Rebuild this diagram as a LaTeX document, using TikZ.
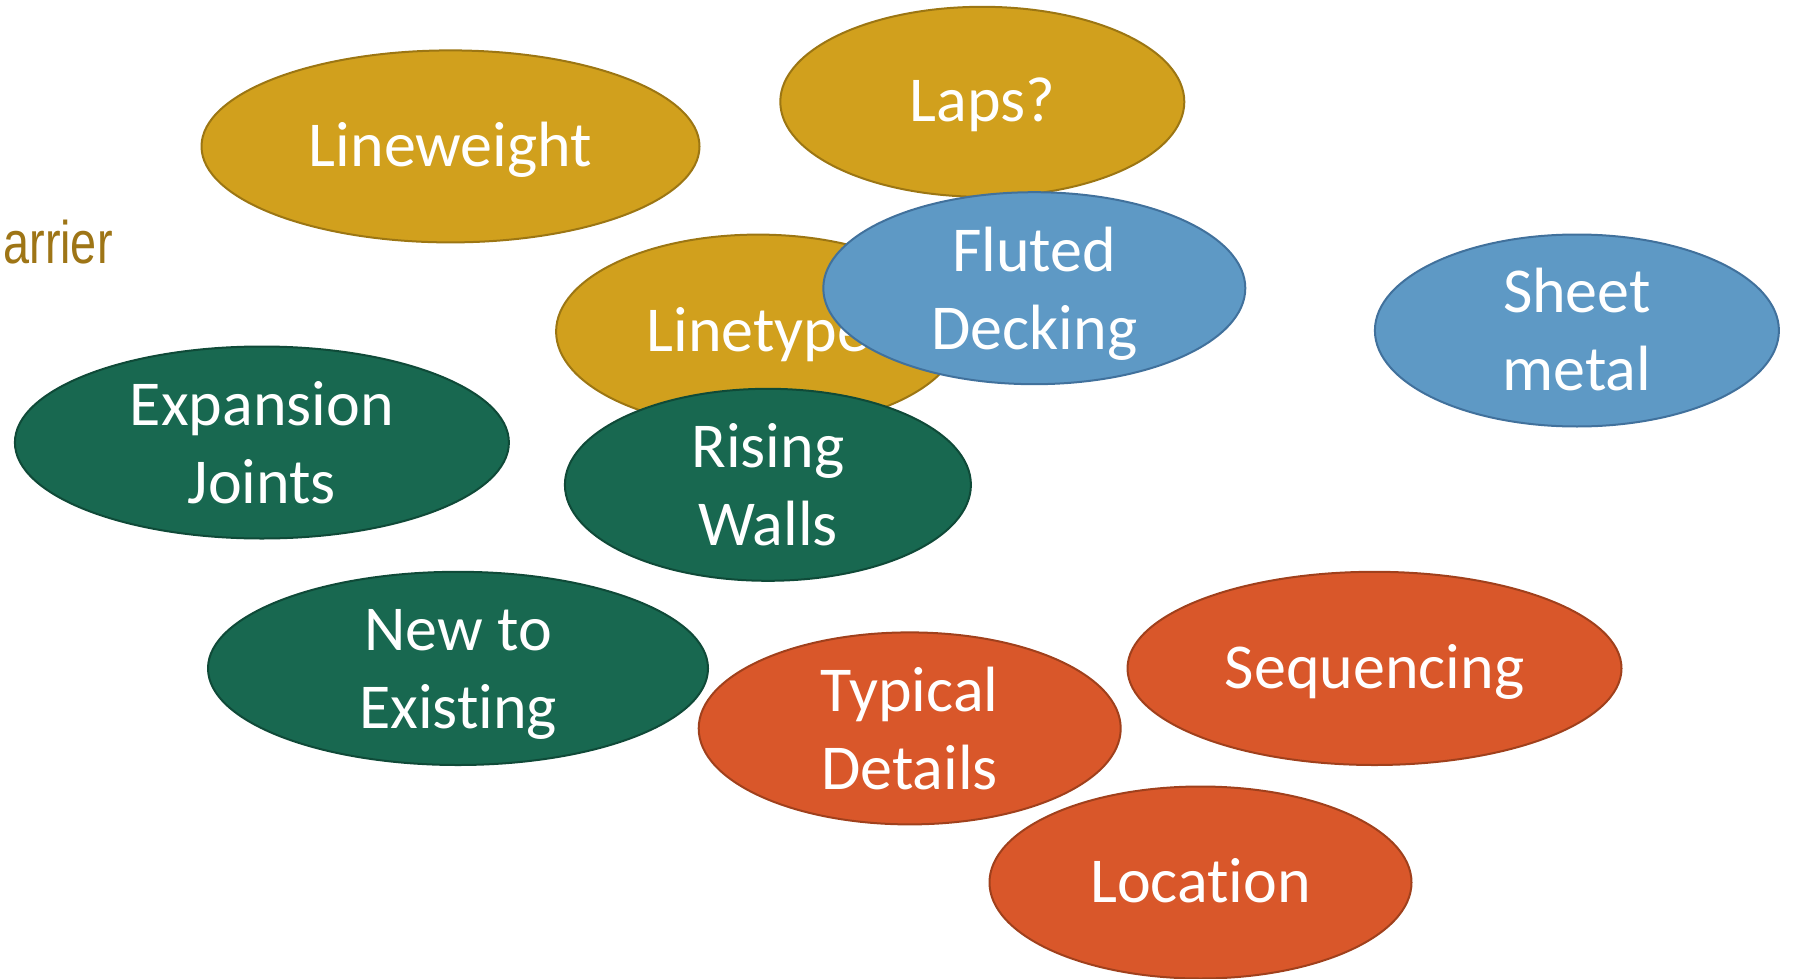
\documentclass[tikz,border=0pt]{standalone}
\usepackage{fontspec}
\setmainfont{Carlito}[Ligatures={NoCommon}]
\newfontfamily\narrowfont{Liberation Sans}
\usetikzlibrary{shapes.geometric}
\definecolor{goldF}{RGB}{209,160,29}
\definecolor{goldD}{RGB}{156,118,19}
\definecolor{blueF}{RGB}{94,153,197}
\definecolor{blueD}{RGB}{65,113,156}
\definecolor{greenF}{RGB}{24,104,80}
\definecolor{greenD}{RGB}{15,74,56}
\definecolor{orangeF}{RGB}{217,87,42}
\definecolor{orangeD}{RGB}{160,64,28}
\definecolor{barrierC}{RGB}{158,117,22}
\newcommand{\twolines}[2]{\begin{tabular}[b]{@{}c@{}}#1\\#2\end{tabular}}
\tikzset{
  blob/.style={ellipse, inner sep=0pt, line width=1pt},
  goldb/.style={blob, fill=goldF, draw=goldD},
  blueb/.style={blob, fill=blueF, draw=blueD},
  greenb/.style={blob, fill=greenF, draw=greenD},
  orangeb/.style={blob, fill=orangeF, draw=orangeD},
  lbl/.style={anchor=base, inner sep=0pt, text=white,
    font=\fontsize{32}{39}\selectfont},
}
\begin{document}
\begin{tikzpicture}[x=0.5pt,y=-0.5pt]
\useasboundingbox (0,0) rectangle (1793,979);
\node[goldb, minimum width=249pt, minimum height=96pt] (lineweight) at (450.5,146.4) {};
\node[lbl] (lineweight-t) at ([yshift=-10pt]lineweight.center) {Lineweight};
\node[goldb, minimum width=202pt, minimum height=95pt] (laps) at (982.3,101.8) {};
\node[lbl] (laps-t) at ([yshift=-10pt]laps.center) {Laps?};
\node[goldb, minimum width=202pt, minimum height=97pt] (linetype) at (758.1,331.6) {};
\node[lbl] (linetype-t) at ([yshift=-10pt]linetype.center) {Linetype};
\node[blueb, minimum width=211pt, minimum height=96pt] (fluted) at (1034.3,288.2) {};
\node[lbl] (fluted-t) at ([yshift=-30.5pt]fluted.center) {\twolines{Fluted}{Decking}};
\node[greenb, minimum width=203pt, minimum height=96pt] (rising) at (767.9,484.8) {};
\node[lbl] (rising-t) at ([yshift=-30.5pt]rising.center) {\twolines{Rising}{Walls}};
\node[blueb, minimum width=202pt, minimum height=96pt] (sheet) at (1576.9,330.5) {};
\node[lbl] (sheet-t) at ([yshift=-30pt]sheet.center) {\twolines{Sheet}{metal}};
\node[greenb, minimum width=247pt, minimum height=96pt] (expansion) at (261.9,442.5) {};
\node[lbl] (expansion-t) at ([yshift=-30.5pt]expansion.center) {\twolines{Expansion}{Joints}};
\node[greenb, minimum width=250pt, minimum height=96.6pt] (newex) at (458,668.4) {};
\node[lbl] (newex-t) at ([yshift=-30pt]newex.center) {\twolines{New to}{Existing}};
\node[orangeb, minimum width=211pt, minimum height=96pt] (typical) at (909.7,728.4) {};
\node[lbl] (typical-t) at ([yshift=-30.5pt]typical.center) {\twolines{Typical}{Details}};
\node[orangeb, minimum width=247pt, minimum height=96.6pt] (sequencing) at (1374.5,668.4) {};
\node[lbl] (sequencing-t) at ([yshift=-10pt]sequencing.center) {Sequencing};
\node[orangeb, minimum width=211pt, minimum height=96pt] (location) at (1200.5,882.5) {};
\node[lbl] (location-t) at ([yshift=-10pt]location.center) {Location};
\node[anchor=base west, inner sep=0pt, text=barrierC] (barrier) at (3,263)
  {\scalebox{0.78}[1]{\narrowfont\fontsize{30}{30}\selectfont arrier}};
\end{tikzpicture}
\end{document}
